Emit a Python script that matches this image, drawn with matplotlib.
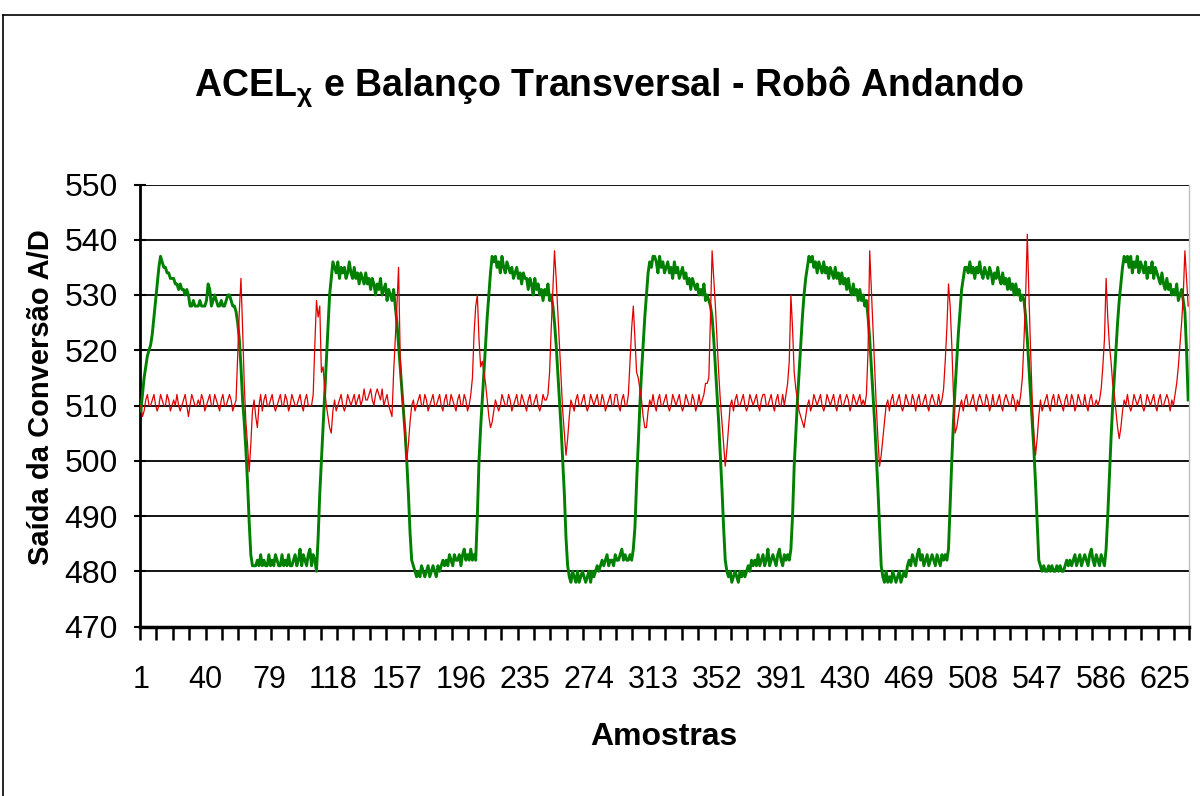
import numpy as np
import matplotlib
matplotlib.use('Agg')
import matplotlib.pyplot as plt
from matplotlib.lines import Line2D

# ACEL_X (accelerometer A/D output), one value per sample
acel_x = [
    # 1-13 rise
    509, 512, 515, 517, 519, 520, 521, 523, 526, 529, 532, 535, 537,
    # 14-59 high
    536, 535, 535, 534, 534, 533, 533, 533, 532, 532,
    531, 532, 531, 531, 530, 531, 530, 528, 528, 529,
    528, 528, 528, 529, 528, 528, 528, 529, 532, 531,
    528, 529, 530, 529, 528, 528, 529, 528, 528, 529,
    530, 530, 529, 528, 528, 527,
    # 60-69 fall
    525, 522, 517, 511, 507, 502, 496, 489, 483, 481,
    # 70-108 low
    481, 481, 482, 481, 483, 481, 482, 481, 481, 483,
    481, 482, 481, 483, 482, 481, 481, 483, 481, 482,
    481, 483, 481, 481, 482, 483, 481, 482, 484, 481,
    483, 482, 481, 483, 484, 481, 483, 482, 480,
    # 109-118 rise
    486, 494, 500, 506, 512, 518, 524, 530, 533, 536,
    # 119-156 high
    535, 534, 536, 533, 535, 534, 535, 533, 534, 536,
    534, 533, 535, 533, 534, 532, 534, 533, 532, 534,
    532, 533, 531, 533, 532, 530, 532, 531, 533, 530,
    531, 532, 529, 531, 530, 529, 531, 528,
    # 157-166 fall
    525, 521, 517, 513, 509, 505, 500, 494, 487, 482,
    # 167-205 low
    481, 480, 479, 480, 479, 481, 480, 479, 480, 481,
    479, 480, 481, 480, 479, 481, 480, 481, 482, 481,
    482, 481, 483, 482, 481, 483, 482, 482, 483, 481,
    483, 484, 482, 483, 482, 484, 482, 483, 482,
    # 206-215 rise
    490, 500, 506, 511, 516, 521, 526, 530, 534, 537,
    # 216-252 high
    536, 537, 535, 536, 534, 537, 535, 534, 536, 535,
    534, 535, 533, 534, 535, 533, 534, 532, 534, 533,
    533, 531, 533, 532, 530, 533, 531, 532, 530, 531,
    529, 531, 530, 532, 529, 530, 528,
    # 253-261 fall
    525, 521, 516, 511, 506, 500, 494, 486, 481,
    # 262-301 low
    479, 478, 480, 479, 478, 480, 478, 479, 480, 479,
    478, 479, 480, 478, 480, 479, 480, 481, 480, 481,
    482, 481, 482, 483, 481, 482, 482, 481, 483, 482,
    482, 483, 484, 482, 483, 482, 482, 483, 482, 484,
    # 302-311 rise
    488, 496, 503, 510, 516, 521, 526, 530, 534, 536,
    # 312-348 high
    535, 537, 537, 536, 534, 537, 535, 536, 534, 535,
    536, 534, 535, 533, 536, 534, 535, 533, 534, 535,
    533, 534, 532, 533, 531, 533, 532, 531, 532, 530,
    531, 530, 532, 529, 530, 529, 528,
    # 349-357 fall
    526, 522, 517, 512, 507, 501, 495, 488, 482,
    # 358-397 low
    480, 479, 480, 478, 479, 480, 479, 478, 480, 479,
    480, 479, 480, 481, 480, 482, 481, 482, 481, 483,
    481, 482, 483, 481, 482, 484, 481, 482, 483, 482,
    481, 483, 484, 482, 481, 483, 482, 483, 482, 484,
    # 398-408 rise
    490, 499, 505, 511, 516, 521, 526, 530, 533, 535, 537,
    # 409-443 high
    536, 537, 535, 536, 534, 536, 535, 534, 536, 534,
    535, 533, 535, 534, 533, 535, 533, 534, 532, 534,
    532, 533, 531, 533, 531, 530, 532, 530, 531, 529,
    531, 529, 530, 528, 529,
    # 444-452 fall
    526, 522, 517, 512, 507, 501, 495, 488, 481,
    # 453-492 low
    479, 478, 480, 478, 479, 478, 480, 479, 478, 479,
    480, 478, 479, 480, 479, 481, 482, 481, 483, 482,
    481, 483, 484, 482, 483, 481, 482, 483, 481, 482,
    483, 482, 481, 483, 482, 481, 483, 482, 483, 482,
    # 493-503 rise
    484, 492, 500, 507, 513, 518, 523, 527, 531, 533, 535,
    # 504-539 high
    535, 534, 536, 534, 535, 533, 535, 534, 536, 534,
    533, 535, 534, 533, 535, 534, 532, 534, 533, 535,
    533, 532, 534, 532, 533, 531, 533, 531, 532, 530,
    532, 530, 531, 529, 530, 529,
    # 540-548 fall
    526, 522, 517, 512, 507, 502, 496, 489, 482,
    # 549-588 low
    481, 480, 481, 480, 480, 481, 480, 481, 480, 480,
    481, 480, 481, 480, 480, 481, 482, 481, 482, 481,
    482, 483, 481, 482, 483, 481, 482, 483, 482, 481,
    483, 484, 482, 481, 483, 482, 481, 483, 482, 481,
    # 589-600 rise
    484, 490, 497, 504, 510, 515, 520, 525, 529, 532, 535, 537,
    # 601-636 high
    536, 537, 535, 537, 534, 536, 535, 537, 534, 536,
    535, 534, 536, 533, 535, 534, 536, 533, 535, 534,
    533, 532, 534, 532, 531, 533, 531, 532, 530, 531,
    530, 532, 529, 530, 531, 529,
    # 637-639
    527, 520, 511,
]

# transverse sway sensor, one value per sample
balanco = [
    # 1-57
    510, 508, 509, 511, 512, 510, 510, 511, 512, 510,
    509, 510, 512, 511, 510, 510, 512, 511, 509, 510,
    511, 510, 512, 510, 509, 510, 511, 512, 510, 508,
    510, 512, 511, 510, 510, 511, 510, 512, 511, 509,
    510, 511, 512, 510, 510, 512, 511, 510, 509, 511,
    512, 510, 510, 511, 512, 511, 509,
    # 58-75
    510, 511, 519, 527, 533, 524, 514, 507, 503, 498,
    503, 509, 511, 508, 506, 510, 512, 509,
    # 76-104
    511, 512, 510, 510, 511, 512, 510, 509, 510, 511,
    512, 510, 510, 512, 511, 509, 510, 512, 511, 510,
    510, 511, 512, 510, 509, 511, 512, 510, 510,
    # 105-120
    510, 512, 521, 529, 526, 528, 516, 517, 513, 510,
    508, 506, 505, 509, 511, 509,
    # 121-149
    510, 511, 512, 510, 509, 510, 512, 511, 510, 511,
    512, 510, 511, 512, 510, 511, 513, 511, 511, 512,
    513, 511, 510, 512, 513, 512, 511, 513, 510,
    # 150-168
    511, 512, 510, 509, 508, 516, 522, 528, 535, 519,
    512, 509, 504, 500, 503, 507, 510, 511, 509,
    # 169-200
    510, 511, 512, 510, 510, 512, 511, 509, 510, 511,
    512, 510, 510, 511, 512, 510, 509, 511, 512, 510,
    510, 512, 511, 510, 509, 511, 512, 510, 510, 512,
    511, 509,
    # 201-218
    510, 512, 515, 523, 528, 530, 522, 517, 518, 516,
    514, 511, 508, 506, 507, 509, 511, 510,
    # 219-247
    509, 510, 512, 511, 510, 510, 512, 511, 509, 510,
    511, 512, 510, 510, 512, 511, 510, 509, 511, 512,
    510, 510, 511, 512, 510, 509, 510, 512, 511,
    # 248-266
    511, 512, 516, 524, 531, 538, 533, 527, 521, 515,
    509, 505, 501, 504, 508, 511, 510, 509, 511,
    # 267-296
    512, 510, 510, 511, 512, 510, 509, 510, 512, 511,
    510, 511, 512, 510, 510, 512, 511, 509, 510, 511,
    512, 510, 510, 512, 512, 510, 509, 511, 512, 510,
    # 297-313
    510, 512, 518, 524, 528, 522, 516, 515, 513, 511,
    508, 506, 506, 509, 511, 510, 512,
    # 314-342
    510, 509, 511, 512, 510, 510, 511, 512, 510, 509,
    510, 512, 511, 510, 511, 512, 510, 509, 510, 512,
    511, 510, 510, 512, 511, 509, 510, 512, 510,
    # 343-362
    511, 512, 514, 514, 515, 526, 538, 533, 528, 522,
    516, 511, 507, 503, 499, 502, 506, 510, 511, 509,
    # 363-392
    511, 512, 510, 510, 511, 512, 510, 509, 510, 512,
    511, 510, 511, 512, 510, 509, 511, 512, 512, 510,
    510, 511, 512, 510, 509, 511, 512, 510, 510, 512,
    # 393-408
    510, 512, 514, 518, 530, 524, 516, 513, 511, 509,
    508, 507, 506, 508, 510, 511,
    # 409-440
    509, 510, 512, 511, 510, 511, 512, 510, 509, 510,
    512, 511, 510, 511, 512, 510, 509, 511, 512, 510,
    510, 511, 512, 511, 509, 510, 512, 511, 510, 511,
    512, 510,
    # 441-457
    511, 510, 512, 520, 538, 531, 524, 517, 510, 504,
    499, 501, 504, 507, 510, 511, 509,
    # 458-487
    511, 512, 510, 510, 511, 512, 510, 509, 510, 512,
    511, 510, 510, 512, 511, 509, 511, 512, 510, 510,
    511, 512, 510, 509, 511, 512, 511, 510, 510, 512,
    # 488-502
    510, 511, 513, 518, 524, 532, 528, 521, 512, 505,
    506, 508, 510, 511, 509,
    # 503-535
    511, 512, 510, 510, 511, 512, 510, 509, 511, 512,
    511, 510, 510, 512, 511, 509, 510, 512, 510, 510,
    511, 512, 510, 509, 511, 512, 511, 510, 510, 512,
    511, 509, 511,
    # 536-550
    510, 512, 515, 522, 530, 541, 530, 520, 511, 505,
    501, 504, 508, 511, 509,
    # 551-583
    510, 511, 512, 510, 509, 511, 512, 510, 510, 512,
    511, 510, 509, 511, 512, 510, 510, 512, 511, 509,
    510, 512, 511, 510, 510, 512, 510, 509, 511, 512,
    510, 510, 511,
    # 584-603
    510, 511, 513, 517, 522, 533, 526, 521, 518, 514,
    512, 509, 506, 504, 506, 509, 511, 510, 512, 510,
    # 604-629
    509, 510, 512, 511, 510, 511, 512, 510, 509, 510,
    512, 511, 510, 511, 512, 510, 509, 511, 512, 510,
    510, 511, 512, 511, 509, 511,
    # 630-639
    510, 512, 514, 517, 521, 525, 530, 538, 533, 528,
]

y_ticks = [470, 480, 490, 500, 510, 520, 530, 540, 550]
x_labels = [1, 40, 79, 118, 157, 196, 235, 274, 313, 352, 391, 430, 469,
            508, 547, 586, 625]

plt.rcParams['font.family'] = ['Liberation Sans', 'DejaVu Sans']
plt.rcParams['mathtext.fontset'] = 'custom'
plt.rcParams['mathtext.rm'] = 'Liberation Sans:bold'
plt.rcParams['mathtext.it'] = 'Liberation Sans:bold'
plt.rcParams['mathtext.bf'] = 'Liberation Sans:bold'

W, H = 1200, 796
fig = plt.figure(figsize=(W / 100, H / 100), dpi=100)
ax = fig.add_axes([140 / W, 1 - 626.5 / H, (1189 - 140) / W, (626.5 - 184.5) / H])

n = len(acel_x)
amostras = np.arange(1, n + 1)
ax.plot(amostras, acel_x, color='#008000', lw=2.1, zorder=3)
ax.plot(amostras, balanco, color='#E00000', lw=0.9, zorder=4)

ax.set_xlim(0.5, n + 0.5)
ax.set_ylim(470, 550)

# horizontal gridlines
ax.set_yticks(y_ticks)
ax.yaxis.grid(True, color='black', lw=1.3)
ax.set_axisbelow(True)
ax.tick_params(axis='y', length=8, width=1.5, direction='inout', pad=12,
               labelsize=23)

# category axis: labels every 39 samples, tick marks every 10
ax.set_xticks(x_labels)
ax.set_xticklabels([str(v) for v in x_labels])
ax.set_xticks(np.append(np.arange(0.5, n, 10), n + 0.5), minor=True)
ax.tick_params(axis='x', which='major', length=0, pad=28, labelsize=22)
ax.tick_params(axis='x', which='minor', length=9, width=1.8, direction='out')

ax.spines['top'].set_visible(False)
ax.spines['right'].set_color('#c0c0c0')
ax.spines['right'].set_linewidth(1)
ax.spines['left'].set_linewidth(2)
ax.spines['bottom'].set_linewidth(2.5)

fig.text(609 / W, 1 - 87 / H, 'ACEL$_{\\chi}$ e Balanço Transversal - Robô Andando',
         ha='center', va='center', fontsize=27, fontweight='bold')
fig.text(664 / W, 1 - 737 / H, 'Amostras', ha='center', va='center',
         fontsize=23, fontweight='bold')
fig.text(41 / W, 1 - 397 / H, 'Saída da Conversão A/D', ha='center', va='center',
         rotation=90, fontsize=21, fontweight='bold')

# chart area border
fig.add_artist(Line2D([3 / W, 1], [1 - 15 / H, 1 - 15 / H], color='black', lw=1.2))
fig.add_artist(Line2D([3 / W, 3 / W], [0, 1 - 15 / H], color='black', lw=1.2))

fig.savefig('out.png', dpi=100)
